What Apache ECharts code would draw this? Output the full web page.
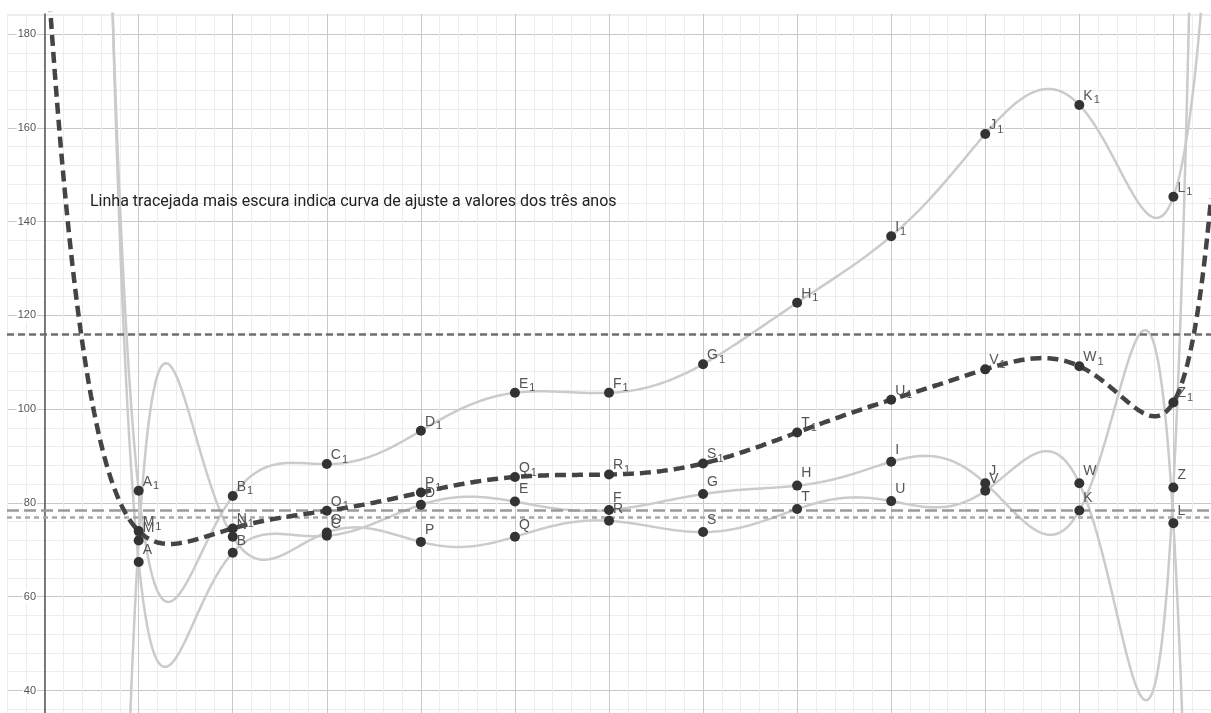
<!DOCTYPE html>
<html>
<head>
<meta charset="utf-8">
<script src="https://cdn.jsdelivr.net/npm/echarts@6/dist/echarts.min.js"></script>
<style>
  html, body { margin: 0; padding: 0; background: #fff; }
  #chart { width: 1211px; height: 713px; }
</style>
</head>
<body>
<div id="chart"></div>
<script>
// meses (eixo x)
const meses = [1, 2, 3, 4, 5, 6, 7, 8, 9, 10, 11, 12];

// ano 1 - pontos A..L
const nomesAno1 = ['A', 'B', 'C', 'D', 'E', 'F', 'G', 'H', 'I', 'J', 'K', 'L'];
const valoresAno1 = [67.4, 69.4, 73.0, 79.6, 80.3, 78.5, 81.9, 83.7, 88.8, 84.2, 78.4, 75.7];

// ano 2 - pontos M..Z
const nomesAno2 = ['M', 'N', 'O', 'P', 'Q', 'R', 'S', 'T', 'U', 'V', 'W', 'Z'];
const valoresAno2 = [72.0, 72.8, 73.7, 71.7, 72.8, 76.2, 73.8, 78.7, 80.4, 82.6, 84.2, 83.3];

// ano 3 - pontos A1..L1
const valoresAno3 = [82.6, 81.5, 88.3, 95.4, 103.5, 103.5, 109.6, 122.7, 136.9, 158.7, 164.9, 145.3];

// rótulos do eixo y
const yTicks = [40, 60, 80, 100, 120, 140, 160, 180];

const nota = 'Linha tracejada mais escura indica curva de ajuste a valores dos três anos';

// média dos três anos em cada mês (pontos M1..Z1)
const medias = meses.map((m, i) => (valoresAno1[i] + valoresAno2[i] + valoresAno3[i]) / 3);

function media(arr) {
    return arr.reduce((a, b) => a + b, 0) / arr.length;
}

// polinómio interpolador (como o Polinómio[] do GeoGebra)
function polinomio(xs, ys, x) {
    let s = 0;
    for (let i = 0; i < xs.length; i++) {
        let l = 1;
        for (let j = 0; j < xs.length; j++) {
            if (j !== i) l *= (x - xs[j]) / (xs[i] - xs[j]);
        }
        s += ys[i] * l;
    }
    return s;
}

const X_MIN = -0.4, X_MAX = 12.4;
function curva(ys) {
    const pts = [];
    const n = 3200;
    for (let k = 0; k <= n; k++) {
        const x = X_MIN + (X_MAX - X_MIN) * k / n;
        pts.push([x, polinomio(meses, ys, x)]);
    }
    return pts;
}

function pontos(ys, nomes) {
    return meses.map((m, i) => [m, ys[i], nomes[i]]);
}

const corGrelha = '#c9c9c9', corGrelhaMenor = '#ededed';
const grelha = [corGrelhaMenor, corGrelhaMenor, corGrelha, corGrelhaMenor, corGrelhaMenor];

function linhaCinza(ys, mediaStyle) {
    return {
        type: 'line',
        data: curva(ys),
        showSymbol: false,
        smooth: false,
        z: 2,
        lineStyle: { color: '#cbcbcb', width: 2.5 },
        markLine: {
            silent: true,
            symbol: 'none',
            label: { show: false },
            z: 3,
            lineStyle: mediaStyle,
            data: [{ yAxis: media(ys) }]
        }
    };
}

function serieDePontos(ys, nomes, sub) {
    return {
        type: 'scatter',
        data: pontos(ys, nomes),
        symbolSize: 10,
        z: 10,
        itemStyle: { color: '#333', opacity: 1 },
        label: {
            show: true,
            position: [9, -14],
            formatter: p => '{b|' + p.data[2] + '}' + (sub ? '{s|1}' : ''),
            rich: {
                b: { fontSize: 14, color: '#555', fontFamily: 'Liberation Sans' },
                s: { fontSize: 11, color: '#555', fontFamily: 'Liberation Sans', padding: [9, 0, 0, 1] }
            }
        }
    };
}

const chart = echarts.init(document.getElementById('chart'), null, { renderer: 'canvas' });

chart.setOption({
    animation: false,
    backgroundColor: '#fff',
    title: {
        text: nota,
        left: 90,
        top: 194,
        padding: 0,
        textStyle: { fontFamily: 'Roboto', fontSize: 16, fontWeight: 'normal', color: '#222' }
    },
    grid: { left: 7, right: 0, top: 14, bottom: -15, containLabel: false, outerBoundsMode: 'none' },
    xAxis: {
        type: 'value',
        min: X_MIN,
        max: X_MAX,
        interval: 0.2,
        axisLine: { show: false },
        axisTick: { show: false },
        axisLabel: { show: false },
        splitLine: { show: true, lineStyle: { color: grelha, width: 1 } }
    },
    yAxis: {
        type: 'value',
        position: 'left',
        offset: -38,
        min: 32,
        max: 184.3,
        interval: 4,
        axisLine: { show: true, onZero: false, lineStyle: { color: '#555', width: 1.5 } },
        axisTick: { show: false },
        axisLabel: {
            margin: 8,
            formatter: v => (yTicks.indexOf(v) >= 0 ? '{n|' + v + '}' : ''),
            rich: {
                n: { fontSize: 11, color: '#555', fontFamily: 'Liberation Sans', backgroundColor: '#fff', padding: [1, 1] }
            }
        },
        splitLine: { show: true, lineStyle: { color: grelha, width: 1 } }
    },
    series: [
        linhaCinza(valoresAno1, { color: '#9a9a9a', width: 2.5, type: [12, 5] }),
        linhaCinza(valoresAno2, { color: '#a8a8a8', width: 2.5, type: [5, 4] }),
        linhaCinza(valoresAno3, { color: '#6f6f6f', width: 2.5, type: [7, 4] }),
        {
            type: 'line',
            data: curva(medias),
            showSymbol: false,
            z: 5,
            lineStyle: { color: '#444', width: 4.5, type: [11, 6] }
        },
        serieDePontos(valoresAno1, nomesAno1, false),
        serieDePontos(valoresAno2, nomesAno2, false),
        serieDePontos(valoresAno3, nomesAno1, true),
        serieDePontos(medias, nomesAno2, true)
    ]
});
</script>
</body>
</html>
